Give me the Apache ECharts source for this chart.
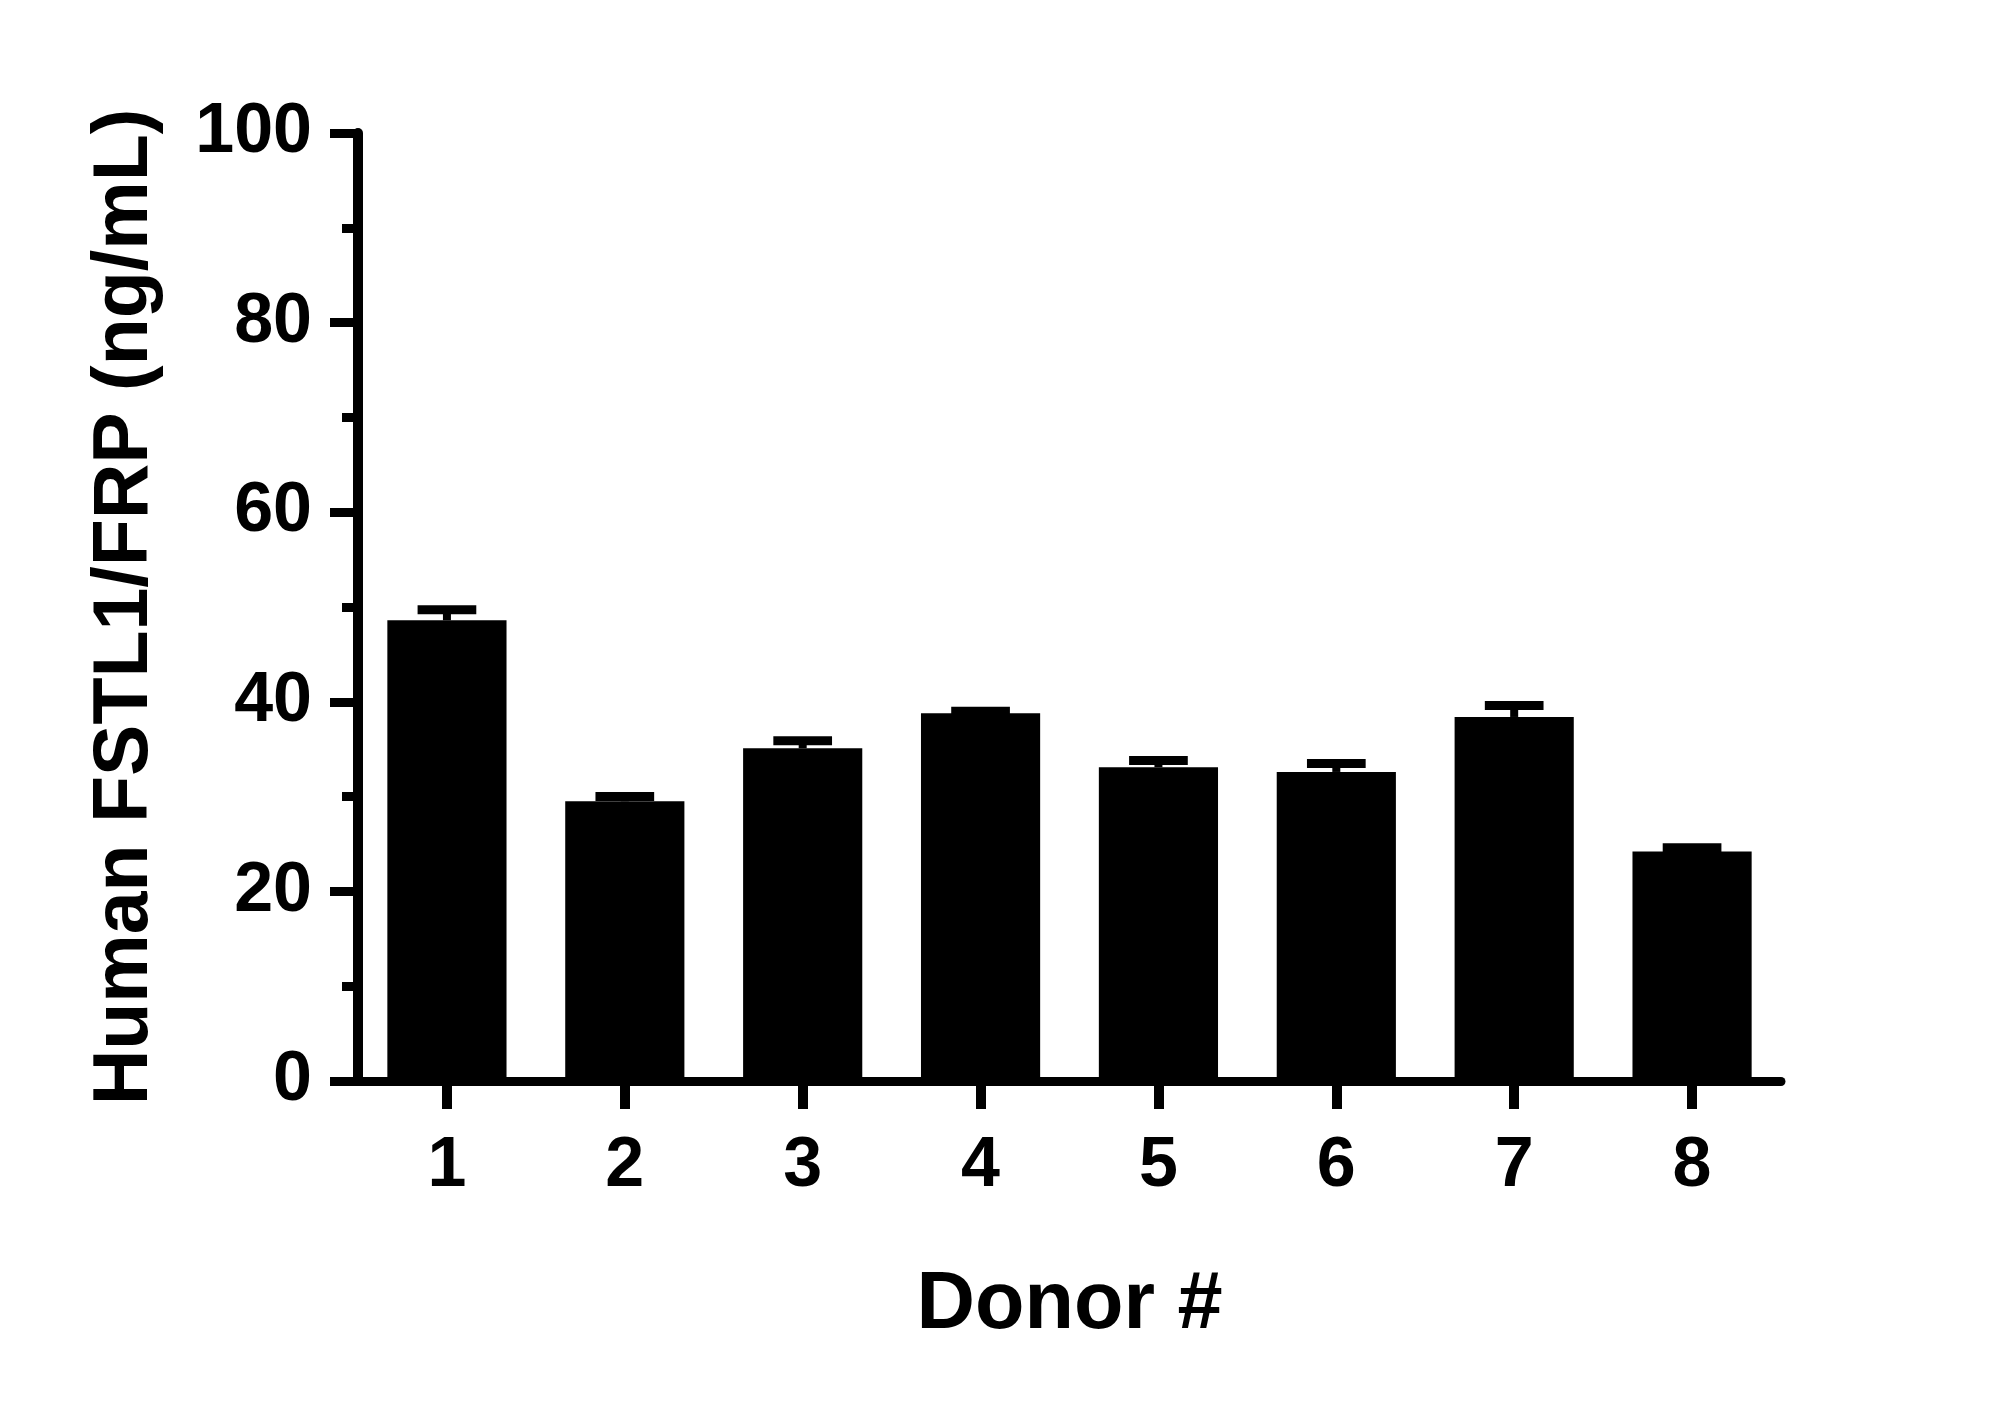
<!DOCTYPE html>
<html>
<head>
<meta charset="utf-8">
<script src="https://cdn.jsdelivr.net/npm/echarts@6/dist/echarts.min.js"></script>
<style>
html,body{margin:0;padding:0;background:#fff;}
#chart{width:2000px;height:1409px;}
</style>
</head>
<body>
<div id="chart"></div>
<script>
const categories = ['1', '2', '3', '4', '5', '6', '7', '8'];
const means = [48.6, 29.5, 35.1, 38.8, 33.1, 32.6, 38.4, 24.2];
const errUpper = [49.7, 30.0, 35.9, 39.0, 33.8, 33.5, 39.6, 24.6];
const yTickMin = 0, yTickMax = 100, yTickStep = 20;
const xTitle = 'Donor #';
const yTitle = 'Human FSTL1/FRP (ng/mL)';

const chart = echarts.init(document.getElementById('chart'), null, {renderer: 'canvas'});
const errData = categories.map((c, i) => [i, means[i], errUpper[i]]);
const baseFont = '"Liberation Sans", Arial, sans-serif';

chart.setOption({
  animation: false,
  backgroundColor: '#fff',
  grid: {left: 358, right: 219, top: 133, bottom: 328, containLabel: false},
  xAxis: {
    type: 'category',
    data: categories,
    boundaryGap: true,
    name: xTitle,
    nameLocation: 'middle',
    nameGap: 184,
    nameTextStyle: {fontSize: 81, fontWeight: 'bold', color: '#000', fontFamily: baseFont},
    axisLine: {show: true, lineStyle: {color: '#000', width: 9}},
    axisTick: {show: true, alignWithLabel: true, length: 28, lineStyle: {color: '#000', width: 10}},
    axisLabel: {fontSize: 70, fontWeight: 'bold', color: '#000', margin: 51, fontFamily: baseFont},
    splitLine: {show: false}
  },
  yAxis: {
    type: 'value',
    min: yTickMin, max: yTickMax, interval: yTickStep,
    name: yTitle,
    nameLocation: 'middle',
    nameGap: 194,
    nameTextStyle: {fontSize: 77, fontWeight: 'bold', color: '#000', fontFamily: baseFont},
    axisLine: {show: true, lineStyle: {color: '#000', width: 10}},
    axisTick: {show: true, length: 28, lineStyle: {color: '#000', width: 9}},
    minorTick: {show: true, splitNumber: 2, length: 16, lineStyle: {color: '#000', width: 9}},
    axisLabel: {fontSize: 70, fontWeight: 'bold', color: '#000', margin: 46, fontFamily: baseFont},
    splitLine: {show: false},
    minorSplitLine: {show: false}
  },
  series: [
    {
      type: 'bar',
      data: means,
      barWidth: '67%',
      itemStyle: {color: '#000'},
      z: 2
    },
    {
      type: 'custom',
      data: errData,
      z: 3,
      renderItem: function (params, api) {
        const base = api.coord([api.value(0), api.value(1)]);
        const top = api.coord([api.value(0), api.value(2)]);
        const bw = api.size([1, 0])[0];
        const cap = bw * 0.33;
        return {
          type: 'group',
          children: [
            {type: 'line', shape: {x1: base[0], y1: base[1], x2: base[0], y2: top[1]}, style: {stroke: '#000', lineWidth: 8}},
            {type: 'line', shape: {x1: base[0] - cap / 2, y1: top[1], x2: base[0] + cap / 2, y2: top[1]}, style: {stroke: '#000', lineWidth: 9}}
          ]
        };
      }
    }
  ]
});
</script>
</body>
</html>
